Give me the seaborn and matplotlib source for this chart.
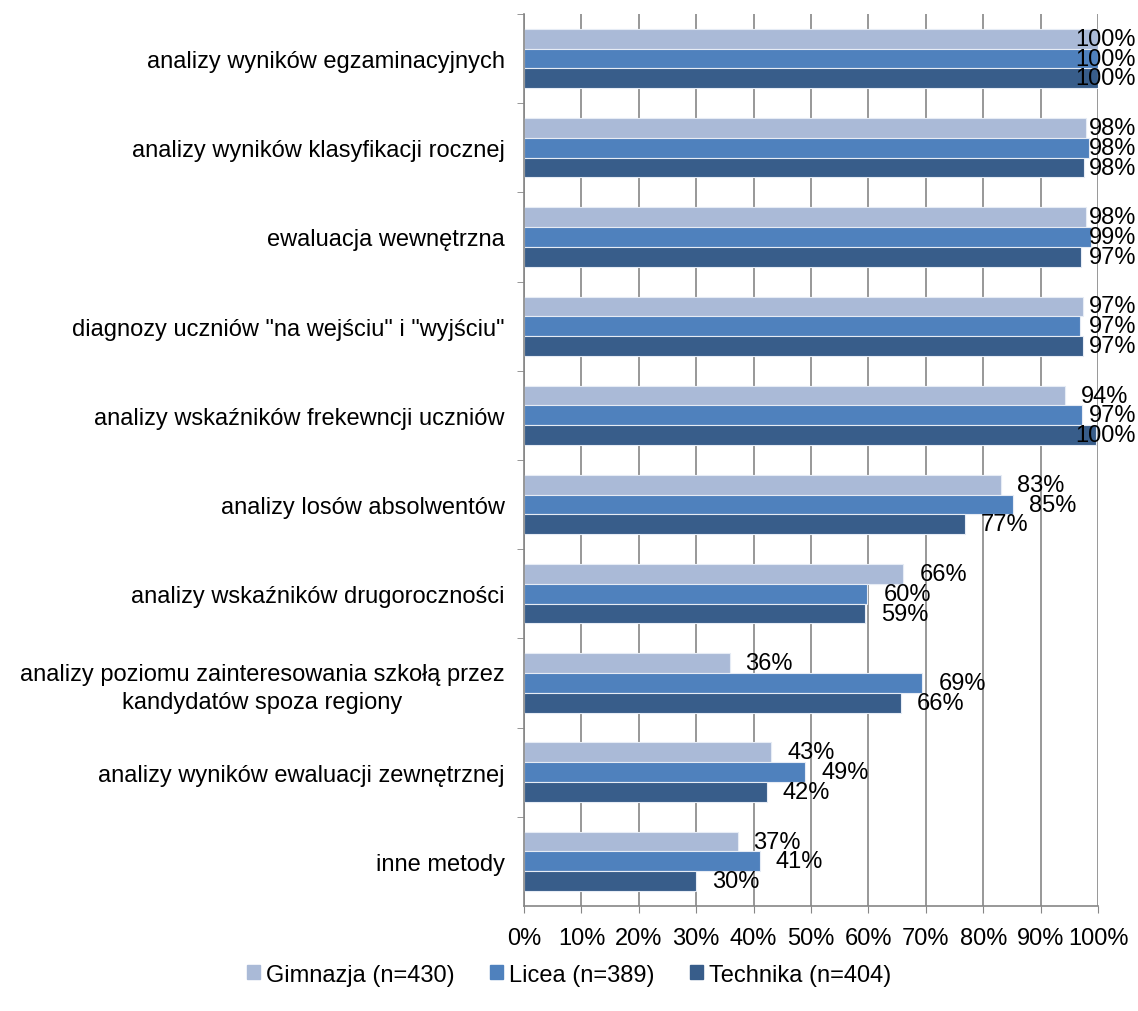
import numpy as np
import pandas as pd
import matplotlib.pyplot as plt
import seaborn as sns

categories = [
    "analizy wyników egzaminacyjnych",
    "analizy wyników klasyfikacji rocznej",
    "ewaluacja wewnętrzna",
    "diagnozy uczniów \"na wejściu\" i \"wyjściu\"",
    "analizy wskaźników frekewncji uczniów",
    "analizy losów absolwentów",
    "analizy wskaźników drugoroczności",
    "analizy poziomu zainteresowania szkołą przez\nkandydatów spoza regiony",
    "analizy wyników ewaluacji zewnętrznej",
    "inne metody",
]
series = ["Gimnazja (n=430)", "Licea (n=389)", "Technika (n=404)"]
gimnazja = [100, 97.9, 97.9, 97.4, 94.3, 83.1, 66.1, 35.8, 43.1, 37.2]
licea = [100, 98.4, 98.8, 96.9, 97.2, 85.1, 59.8, 69.4, 49.0, 41.1]
technika = [100, 97.6, 97.1, 97.4, 99.6, 76.8, 59.4, 65.6, 42.3, 30.0]
colors = ["#AABAD7", "#4F81BD", "#385D8A"]

df = pd.DataFrame({
    "cat": categories * 3,
    "series": np.repeat(series, len(categories)),
    "val": gimnazja + licea + technika,
})

sns.set_style("white")
plt.rcParams["font.family"] = ["Liberation Sans", "DejaVu Sans"]
plt.rcParams["font.size"] = 17
plt.rcParams["text.color"] = "black"
plt.rcParams["xtick.color"] = "black"
plt.rcParams["ytick.color"] = "black"

fig = plt.figure(figsize=(11.38, 10.12), dpi=100)
ax = fig.add_axes([0.4605, 0.1038, 0.5044, 0.8814])

sns.barplot(data=df, y="cat", x="val", hue="series", orient="h",
            palette=colors, saturation=1, width=0.665, edgecolor="#E6ECF5",
            linewidth=0.8, ax=ax, legend=True, zorder=2)

ax.set_xlim(0, 100)
ax.set_ylim(len(categories) - 0.5, -0.5)
ax.set_xticks(np.arange(0, 101, 10))
ax.set_xticklabels([f"{t}%" for t in range(0, 101, 10)])
ax.set_xlabel("")
ax.set_ylabel("")
ax.xaxis.grid(True, color="#868686", linewidth=1.2, zorder=0)
ax.set_axisbelow(True)

ax.set_yticks(np.arange(len(categories)) - 0.5, minor=True)
ax.tick_params(axis="y", which="major", length=0, pad=14)
ax.tick_params(axis="y", which="minor", length=5, color="#868686", direction="out", left=True)
ax.tick_params(axis="x", which="major", length=5, color="#868686", labelcolor="black",
               direction="out", bottom=True, pad=10)
for t in ax.get_yticklabels():
    t.set_multialignment("center")
    t.set_linespacing(1.3)

for s in ["top", "right"]:
    ax.spines[s].set_visible(False)
for s in ["left", "bottom"]:
    ax.spines[s].set_color("#868686")
    ax.spines[s].set_linewidth(1.2)

ax.get_legend().remove()
handles = [plt.Rectangle((0, 0), 1, 1, color=c) for c in colors]
fig.legend(handles, series, loc="center", bbox_to_anchor=(0.5, 0.036),
           ncol=3, frameon=False, handlelength=0.55, handleheight=0.55,
           handletextpad=0.25, columnspacing=1.5)

fig.canvas.draw()
renderer = fig.canvas.get_renderer()
right_px = 1136
for container, vals in zip(ax.containers, [gimnazja, licea, technika]):
    for bar, v in zip(container, vals):
        y = bar.get_y() + bar.get_height() / 2
        t = ax.annotate(f"{v:.0f}%", xy=(bar.get_width(), y), xytext=(11.5, 0),
                        textcoords="offset points", ha="left", va="center",
                        annotation_clip=False, zorder=5)
        bb = t.get_window_extent(renderer)
        if bb.x1 > right_px:
            t.set_position((11.5 - (bb.x1 - right_px) * 0.72, 0))

fig.savefig("out.png", dpi=100)
